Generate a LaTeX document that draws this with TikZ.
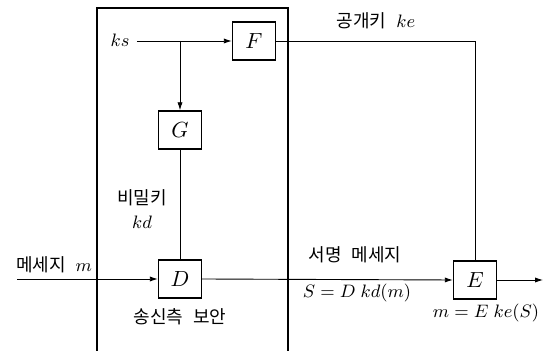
\documentclass[tikz,border=0pt]{standalone}
\usepackage{fontspec}
\newfontfamily\kr{Noto Sans CJK KR}
\usetikzlibrary{arrows.meta}
\newcommand\mfont{\fontsize{9.3}{11}\selectfont}
\newcommand\ksp{\hspace{0.55em}}
\tikzset{
  blk/.style={draw, line width=0.7pt, minimum width=21.5pt, minimum height=19pt, inner sep=0pt, font=\fontsize{11}{13}\selectfont},
  conn/.style={line width=0.45pt},
  arr/.style={conn, -{Latex[length=4pt,width=2.6pt]}},
  lbl/.style={inner sep=0pt, font=\mfont},
  krl/.style={inner sep=0pt, font=\kr\fontsize{9}{11}\selectfont}
}
\begin{document}
\begin{tikzpicture}[x=0.5pt, y=-0.5pt]
\useasboundingbox (0,0) rectangle (546,351);
% enclosing frame (open at bottom)
\draw[line width=0.9pt] (97,360) -- (97,8) -- (288,8) -- (288,360);
% blocks
\node[blk] (F) at (254,41) {$F$};
\node[blk] (G) at (180,130) {$G$};
\node[blk] (D) at (180,279) {$D$};
\node[blk] (E) at (475,280) {$E$};
% input key
\node[lbl, inner sep=3.5pt] (ks) at (120,40) {$ks$};
\coordinate (br) at (G.north |- F.west);
\draw[arr] (ks.east |- F.west) -- (F.west);
\draw[arr] (br) -- (G.north);
\draw[conn] (G.south) -- (D.north);
% message
\coordinate (min) at (17,279);
\draw[arr] (min) -- (D.west);
\draw[arr] (D.east) -- (E.west);
\coordinate (out) at (543,280);
\draw[arr] (E.east) -- (out);
% public key
\coordinate (corner) at (E.north |- F.east);
\draw[conn] (F.east) -- (corner) -- (E.north);
% labels
\node[krl] (lpub) at (376,21) {공개키\ksp{\mfont$ke$}};
\node[krl, align=center] (lsec) at (142,209) {비밀키\\[1pt]{\mfont$kd$}};
\node[krl] (lmsg) at (54,265) {메세지\ksp{\mfont$m$}};
\node[krl] (lsig) at (355,255) {서명\ksp 메세지};
\node[lbl] (lS) at (357,293) {$S = D\;kd(m)$};
\node[lbl] (lm) at (486,313) {$m = E\;ke(S)$};
\node[krl] (lsend) at (180,317) {송신측\ksp 보안};
\end{tikzpicture}
\end{document}
